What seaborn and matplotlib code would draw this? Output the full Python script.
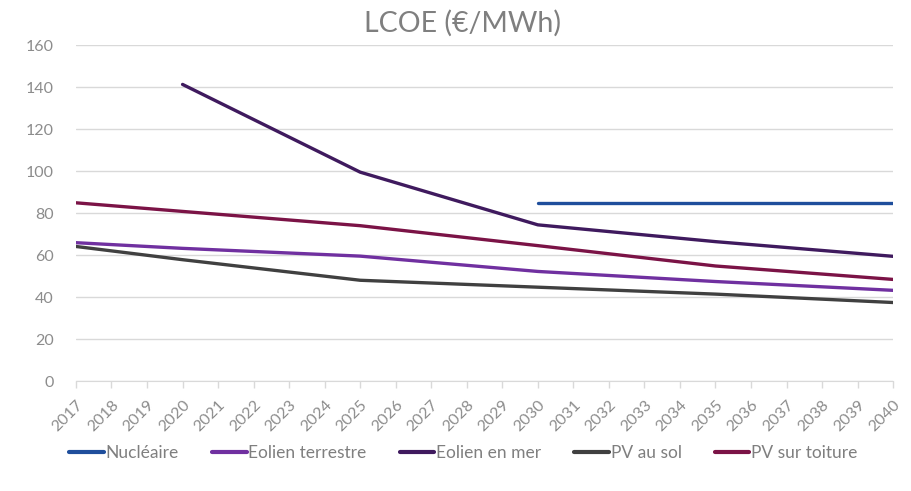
import pandas as pd
import numpy as np
import matplotlib
matplotlib.use("Agg")
import matplotlib.pyplot as plt
import seaborn as sns

# data (LCOE, EUR/MWh)
years_nuc = [2030, 2035, 2040]
nucleaire = [85, 85, 85]

years = [2017, 2020, 2025, 2030, 2035, 2040]
eolien_terrestre = [65.9, 63.2, 59.5, 52.2, 47.4, 43.2]
pv_sol = [64.1, 57.8, 48.0, 44.7, 41.4, 37.4]
pv_toiture = [84.9, 80.8, 74.0, 64.5, 54.8, 48.4]

years_mer = [2020, 2025, 2030, 2035, 2040]
eolien_mer = [141.3, 99.5, 74.4, 66.4, 59.4]

series = ["Nucléaire", "Eolien terrestre", "Eolien en mer", "PV au sol", "PV sur toiture"]
colors = ["#1F4E9C", "#7030A0", "#3F1A5E", "#404040", "#7B1346"]

frames = [
    pd.DataFrame({"year": years_nuc, "lcoe": nucleaire, "serie": series[0]}),
    pd.DataFrame({"year": years, "lcoe": eolien_terrestre, "serie": series[1]}),
    pd.DataFrame({"year": years_mer, "lcoe": eolien_mer, "serie": series[2]}),
    pd.DataFrame({"year": years, "lcoe": pv_sol, "serie": series[3]}),
    pd.DataFrame({"year": years, "lcoe": pv_toiture, "serie": series[4]}),
]
df = pd.concat(frames, ignore_index=True)

sns.set_style("white")
plt.rcParams['font.family'] = ['Lato', 'DejaVu Sans']

fig = plt.figure(figsize=(9.12, 4.91), dpi=100)
ax = fig.add_axes([0.0833, 0.224, 0.896, 0.684])

sns.lineplot(data=df, x="year", y="lcoe", hue="serie", hue_order=series,
             palette=dict(zip(series, colors)), linewidth=2.4, ax=ax,
             legend=False, zorder=3)

txt = "#8C8C8C"
ax.set_xlim(2017, 2040)
ax.set_ylim(0, 160)
ax.set_yticks(range(0, 161, 20))
ax.set_xticks(range(2017, 2041))
ax.set_xticklabels([str(y) for y in range(2017, 2041)], rotation=45,
                   ha="right", rotation_mode="anchor")
ax.yaxis.grid(True, color="#D9D9D9", linewidth=1)
ax.set_axisbelow(True)
for s in ["top", "right", "left"]:
    ax.spines[s].set_visible(False)
ax.spines["bottom"].set_color("#D9D9D9")
ax.tick_params(axis="x", colors=txt, labelsize=11.5, length=5,
               width=1, color="#D9D9D9", direction="out", bottom=True, pad=7)
ax.tick_params(axis="y", colors=txt, labelsize=11.5, length=0, pad=16)
ax.set_xlabel("")
ax.set_ylabel("")

fig.suptitle("LCOE (€/MWh)", x=0.507, y=0.98, fontsize=20.5, color="#7F7F7F")

handles = [plt.Line2D([], [], color=c, linewidth=3) for c in colors]
fig.legend(handles, series, loc="lower center", bbox_to_anchor=(0.508, 0.03),
           ncol=5, frameon=False, fontsize=12.5, handlelength=2.0,
           handletextpad=0.1, columnspacing=1.9, labelcolor="#7F7F7F")

fig.savefig("out.png", dpi=100)
